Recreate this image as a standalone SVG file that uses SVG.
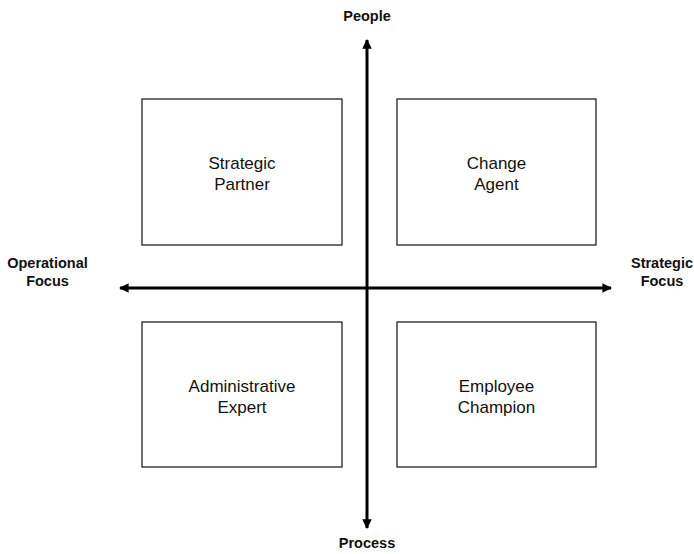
<svg xmlns="http://www.w3.org/2000/svg" width="694" height="554" viewBox="0 0 694 554">
<style>
.box{fill:#fff;stroke:#222;stroke-width:1.3}
.lbl{font-family:"Liberation Sans",Arial,sans-serif;font-size:17px;fill:#111;text-anchor:middle}
.ax{font-family:"Liberation Sans",Arial,sans-serif;font-size:14.5px;font-weight:bold;fill:#111;text-anchor:middle}
.axis{stroke:#000;stroke-width:3;fill:none}
</style>
<defs>
<marker id="ah" viewBox="0 0 10 10" refX="9" refY="5" markerWidth="3.2" markerHeight="3.2" orient="auto" markerUnits="strokeWidth">
<path d="M0,0 L10,5 L0,10 Z" fill="#000"/>
</marker>
</defs>
<rect width="694" height="554" fill="#fff"/>
<g id="connectors">
<line class="axis" x1="367" y1="288" x2="367" y2="40" marker-end="url(#ah)"/>
<line class="axis" x1="367" y1="288" x2="367" y2="528" marker-end="url(#ah)"/>
<line class="axis" x1="367" y1="288" x2="120" y2="288" marker-end="url(#ah)"/>
<line class="axis" x1="367" y1="288" x2="611" y2="288" marker-end="url(#ah)"/>
</g>
<g id="strategic-partner">
<rect class="box" x="142" y="99" width="200" height="146"/>
<text class="lbl" x="242" y="169">Strategic</text>
<text class="lbl" x="242" y="190">Partner</text>
</g>
<g id="change-agent">
<rect class="box" x="397" y="99" width="199" height="146"/>
<text class="lbl" x="496.5" y="169">Change</text>
<text class="lbl" x="496.5" y="190">Agent</text>
</g>
<g id="administrative-expert">
<rect class="box" x="142" y="322" width="200" height="145"/>
<text class="lbl" x="242" y="392">Administrative</text>
<text class="lbl" x="242" y="413">Expert</text>
</g>
<g id="employee-champion">
<rect class="box" x="397" y="322" width="199" height="145"/>
<text class="lbl" x="496.5" y="392">Employee</text>
<text class="lbl" x="496.5" y="413">Champion</text>
</g>
<g id="axis-labels">
<text class="ax" x="367" y="21">People</text>
<text class="ax" x="367" y="548">Process</text>
<text class="ax" x="47.5" y="268">Operational</text>
<text class="ax" x="47.5" y="286">Focus</text>
<text class="ax" x="662" y="268">Strategic</text>
<text class="ax" x="662" y="286">Focus</text>
</g>
</svg>
